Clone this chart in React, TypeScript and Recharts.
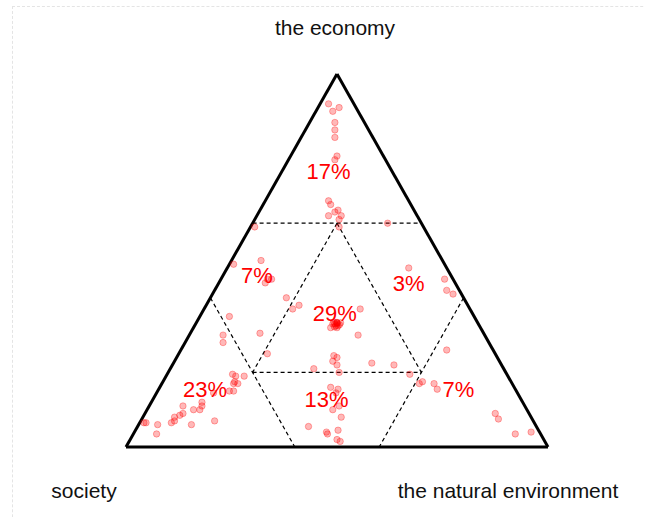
import React from 'react';
import { ScatterChart, Scatter, XAxis, YAxis, ReferenceLine } from 'recharts';

// ternary compositions: [economy, society, environment]
type Comp = [number, number, number];

const topRegion: Comp[] = [
  [0.92, 0.06, 0.02], [0.91, 0.04, 0.05], [0.9, 0.06, 0.04], [0.87, 0.07, 0.06],
  [0.85, 0.08, 0.07], [0.83, 0.09, 0.08], [0.78, 0.11, 0.11], [0.77, 0.12, 0.11],
  [0.66, 0.19, 0.15], [0.65, 0.19, 0.16], [0.635, 0.18, 0.185], [0.63, 0.19, 0.18],
  [0.62, 0.18, 0.2], [0.62, 0.21, 0.17], [0.61, 0.19, 0.2],
];

const leftMiddle: Comp[] = [
  [0.59, 0.4, 0.01], [0.49, 0.5, 0.01], [0.5, 0.43, 0.07], [0.45, 0.43, 0.12],
  [0.45, 0.44, 0.11], [0.44, 0.45, 0.11], [0.4, 0.42, 0.18], [0.37, 0.42, 0.21],
  [0.38, 0.4, 0.22], [0.35, 0.58, 0.07], [0.305, 0.53, 0.165], [0.25, 0.54, 0.21],
];

const rightMiddle: Comp[] = [
  [0.6, 0.08, 0.32], [0.48, 0.09, 0.43], [0.45, 0.02, 0.53], [0.42, 0.03, 0.55],
  [0.41, 0.02, 0.57],
];

const centre: Comp[] = [
  [0.37, 0.26, 0.37], [0.333, 0.334, 0.333], [0.333, 0.333, 0.334], [0.334, 0.333, 0.333],
  [0.33, 0.335, 0.335], [0.325, 0.34, 0.335], [0.33, 0.345, 0.325], [0.325, 0.335, 0.34],
  [0.335, 0.34, 0.325], [0.32, 0.34, 0.34], [0.328, 0.33, 0.342], [0.322, 0.345, 0.333],
  [0.33, 0.34, 0.33], [0.333, 0.325, 0.342], [0.32, 0.355, 0.325],
  [0.3, 0.3, 0.4], [0.59, 0.2, 0.21], [0.245, 0.385, 0.37], [0.24, 0.38, 0.38],
  [0.23, 0.395, 0.375], [0.22, 0.39, 0.39], [0.225, 0.305, 0.47], [0.22, 0.255, 0.525],
  [0.21, 0.45, 0.34], [0.2, 0.395, 0.405],
];

const bottomMiddle: Comp[] = [
  [0.16, 0.435, 0.405], [0.155, 0.42, 0.425], [0.145, 0.43, 0.425], [0.1, 0.46, 0.44],
  [0.11, 0.44, 0.45], [0.08, 0.45, 0.47], [0.055, 0.54, 0.405], [0.04, 0.505, 0.455],
  [0.035, 0.505, 0.46], [0.045, 0.475, 0.48], [0.02, 0.49, 0.49], [0.015, 0.485, 0.5],
];

const bottomRight: Comp[] = [
  [0.195, 0.23, 0.575], [0.175, 0.21, 0.615], [0.17, 0.22, 0.61], [0.17, 0.185, 0.645],
  [0.155, 0.185, 0.66], [0.26, 0.11, 0.63], [0.09, 0.08, 0.83], [0.075, 0.08, 0.845],
  [0.035, 0.06, 0.905], [0.04, 0.02, 0.94],
];

const bottomLeft: Comp[] = [
  [0.3, 0.62, 0.08], [0.28, 0.63, 0.09], [0.195, 0.65, 0.155], [0.19, 0.645, 0.165],
  [0.19, 0.625, 0.185], [0.175, 0.655, 0.17], [0.17, 0.65, 0.18], [0.17, 0.66, 0.17],
  [0.15, 0.68, 0.17], [0.15, 0.67, 0.18], [0.145, 0.72, 0.135], [0.11, 0.81, 0.08],
  [0.12, 0.76, 0.12], [0.11, 0.765, 0.125], [0.1, 0.775, 0.125], [0.1, 0.79, 0.11],
  [0.09, 0.82, 0.09], [0.085, 0.83, 0.085], [0.08, 0.845, 0.075], [0.065, 0.86, 0.075],
  [0.07, 0.85, 0.08], [0.06, 0.815, 0.125], [0.07, 0.755, 0.175], [0.065, 0.925, 0.01],
  [0.065, 0.92, 0.015], [0.06, 0.895, 0.045], [0.035, 0.91, 0.055],
];

const regionLabels = ['17%', '7%', '3%', '29%', '23%', '13%', '7%'];
const regionAnchors: Comp[] = [
  [0.74, 0.15, 0.11], [0.46, 0.46, 0.08], [0.44, 0.11, 0.45], [0.36, 0.325, 0.315],
  [0.155, 0.735, 0.11], [0.13, 0.46, 0.41], [0.155, 0.135, 0.71],
];

const corners: Comp[] = [[1, 0, 0], [0, 1, 0], [0, 0, 1]];

// dashed boundaries between the regions, as pairs of compositions
const dividers: [Comp, Comp][] = [
  [[0.6, 0.4, 0], [0.6, 0, 0.4]],
  [[0.4, 0.6, 0], [0, 0.6, 0.4]],
  [[0.4, 0, 0.6], [0, 0.4, 0.6]],
  [[0.2, 0.6, 0.2], [0.2, 0.2, 0.6]],
  [[0.6, 0.2, 0.2], [0.2, 0.6, 0.2]],
  [[0.6, 0.2, 0.2], [0.2, 0.2, 0.6]],
];

const SQ3 = Math.sqrt(3) / 2;
const toXY = ([e, s, n]: Comp) => {
  const t = e + s + n;
  return { x: n / t + (e / t) / 2, y: (e / t) * SQ3 };
};

const allPoints = [
  ...topRegion, ...leftMiddle, ...rightMiddle, ...centre,
  ...bottomMiddle, ...bottomRight, ...bottomLeft,
].map(toXY);

const labelData = regionAnchors.map((c, i) => ({ ...toXY(c), label: regionLabels[i] }));

const font = '"Liberation Sans", Arial, Helvetica, sans-serif';

const Dot = (props: any) => (
  <circle
    cx={props.cx}
    cy={props.cy}
    r={3.2}
    fill="rgba(255,0,0,0.28)"
    stroke="rgba(255,0,0,0.3)"
    strokeWidth={1}
  />
);

const RegionText = (props: any) => (
  <text x={props.cx} y={props.cy + 8} textAnchor="middle" fontSize={22} fill="#ff0000" fontFamily={font}>
    {props.payload.label}
  </text>
);

const cornerText: React.CSSProperties = {
  position: 'absolute',
  fontFamily: font,
  fontSize: 21,
  lineHeight: '21px',
  color: '#111',
  whiteSpace: 'nowrap',
};

export default function App() {
  const [top, left, right] = corners.map(toXY);
  return (
    <div style={{ position: 'absolute', left: 0, top: 0, width: 645, height: 517, overflow: 'hidden', background: '#fff' }}>
      <div
        style={{
          position: 'absolute', left: 12, top: 6, width: 700, height: 600,
          borderTop: '1px dashed #e4e4e4', borderLeft: '1px dashed #e4e4e4',
        }}
      />
      <ScatterChart width={645} height={517} margin={{ top: 0, right: 0, bottom: 0, left: 0 }}>
        <XAxis type="number" dataKey="x" hide domain={[-0.2986, 1.2299]} allowDataOverflow />
        <YAxis type="number" dataKey="y" hide domain={[-0.1625, 1.0378]} allowDataOverflow />
        {dividers.map(([a, b], i) => (
          <ReferenceLine
            key={i}
            segment={[toXY(a), toXY(b)]}
            stroke="#000"
            strokeWidth={1.2}
            strokeDasharray="4 3"
          />
        ))}
        <ReferenceLine segment={[left, right]} stroke="#000" strokeWidth={3} />
        <ReferenceLine segment={[left, top]} stroke="#000" strokeWidth={3} />
        <ReferenceLine segment={[top, right]} stroke="#000" strokeWidth={3} />
        <Scatter data={allPoints} shape={Dot} isAnimationActive={false} />
        <Scatter data={labelData} shape={RegionText} isAnimationActive={false} />
      </ScatterChart>
      <div style={{ ...cornerText, left: 335, top: 17, transform: 'translateX(-50%)' }}>the economy</div>
      <div style={{ ...cornerText, left: 84, top: 480, transform: 'translateX(-50%)' }}>society</div>
      <div style={{ ...cornerText, left: 508, top: 480, transform: 'translateX(-50%)' }}>the natural environment</div>
    </div>
  );
}
